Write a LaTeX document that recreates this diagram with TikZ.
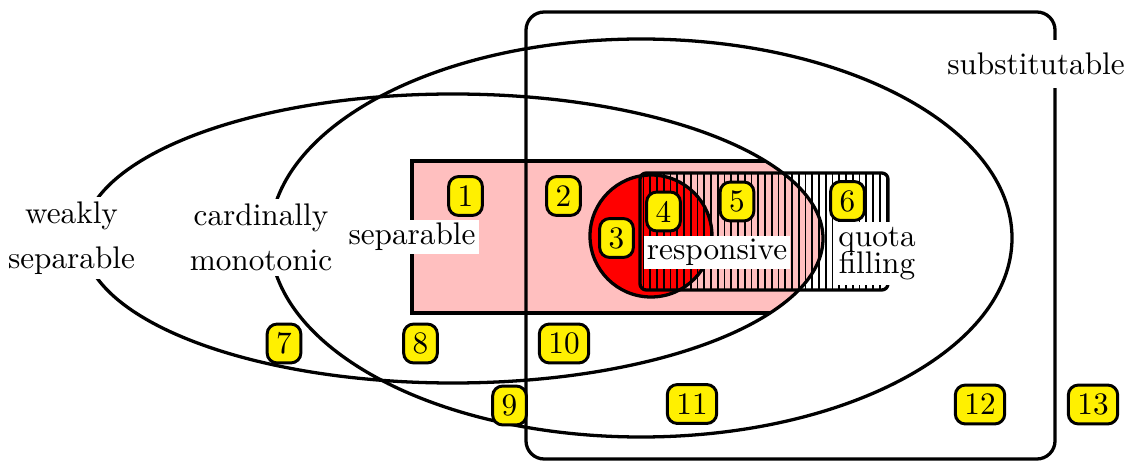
\documentclass[tikz,border=0pt]{standalone}
\definecolor{pinkfill}{RGB}{255,191,191}
\definecolor{boxyellow}{RGB}{255,240,0}
\begin{document}
\begin{tikzpicture}[x=0.32pt,y=-0.32pt,
  numbox/.style={draw, line width=0.95pt, fill=boxyellow, rounded corners=3.2pt,
    inner xsep=2.9pt, inner ysep=0pt, minimum height=12.45pt},
  lab/.style={fill=white, inner sep=1pt, align=center},
  outline/.style={line width=1.05pt},
  hatch/.style={line width=0.55pt}]
\useasboundingbox (0,0) rectangle (1126,461);
% pink region (separable), clipped by the weakly separable ellipse
\begin{scope}
  \clip (453,238.5) ellipse [x radius=118.4pt, y radius=46.24pt];
  \fill[pinkfill] (412,161) rectangle (900,313);
\end{scope}
% responsive disc
\fill[red] (651,236) circle [radius=19.52pt];
% quota filling hatching
\begin{scope}
  \clip[rounded corners=2pt] (640,173) rectangle (888,290);
  \foreach \i in {0,...,36} \draw[hatch] ({643.5+\i*6.75},170) -- ++(0,125);
\end{scope}
% outlines
\draw[outline, rounded corners=5.8pt] (526,12) rectangle (1055,459);
\draw[outline] (453,238.5) ellipse [x radius=118.4pt, y radius=46.24pt];
\draw[outline] (641,238) ellipse [x radius=118.72pt, y radius=63.68pt];
\begin{scope}
  \clip (453,238.5) ellipse [x radius=118.4pt, y radius=46.24pt];
  \draw[outline] (412,161) rectangle (900,313);
\end{scope}
\draw[outline] (651,236) circle [radius=19.52pt];
\draw[outline, rounded corners=2pt] (640,173) rectangle (888,290);
% labels
\node[lab, inner sep=1.5pt] (ws) at (71.5,237.7) {weakly\\[2.4pt]separable};
\node[lab, inner sep=1.5pt] (cm) at (261,237.7) {cardinally\\[2.4pt]monotonic};
\node[lab] (sep) at (412,237) {separable};
\node[lab] (resp) at (717,252.5) {responsive};
\node[lab, inner sep=1.5pt] (qf) at (877,253.5) {quota\\[-3.3pt]filling};
\node[lab, inner xsep=1pt, inner ysep=4.2pt] (sub) at (1036,64) {substitutable};
% numbered regions
\node[numbox] (n1) at (465.5,196) {1};
\node[numbox] (n2) at (563.5,196) {2};
\node[numbox] (n3) at (616.5,238) {3};
\node[numbox] (n4) at (663.5,211.5) {4};
\node[numbox] (n5) at (737,201.5) {5};
\node[numbox] (n6) at (847.5,201) {6};
\node[numbox] (n7) at (284,343.5) {7};
\node[numbox] (n8) at (420.5,343.5) {8};
\node[numbox] (n9) at (509.5,405.5) {9};
\node[numbox] (n10) at (564,343.5) {10};
\node[numbox] (n11) at (692,404) {11};
\node[numbox] (n12) at (980,404.5) {12};
\node[numbox] (n13) at (1093,404.5) {13};
\end{tikzpicture}
\end{document}
